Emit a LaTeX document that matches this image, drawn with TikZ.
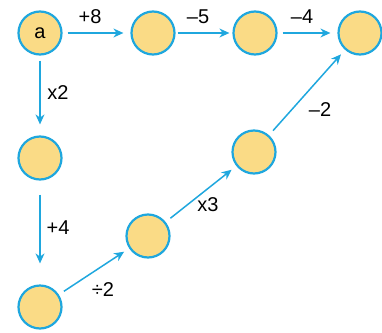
\documentclass[tikz,border=0pt]{standalone}
\usepackage{fontspec}
\setmainfont{Liberation Sans}
\usetikzlibrary{arrows.meta}
\definecolor{cfill}{HTML}{FADB86}
\definecolor{cline}{HTML}{1FA7DE}
\begin{document}
\begin{tikzpicture}[x=1pt,y=-1pt,
  ball/.style={circle,draw=cline,fill=cfill,line width=2.2pt,minimum size=43pt,inner sep=0pt,font=\fontsize{20}{22}\selectfont},
  arr/.style={draw=cline,line width=1.5pt,-{Stealth[length=10pt,width=9pt]}},
  lab/.style={font=\fontsize{20}{22}\selectfont,inner sep=0pt}]
\useasboundingbox (0,0) rectangle (382,332);
\node[ball] (a) at (40,33) {a};
\node[ball] (b) at (153,33) {};
\node[ball] (c) at (255,33) {};
\node[ball] (d) at (360,33) {};
\node[ball] (e) at (40,158) {};
\node[ball] (f) at (40,307) {};
\node[ball] (g) at (148,236) {};
\node[ball] (h) at (254,152) {};
\draw[arr,shorten <=5pt,shorten >=7pt] (a) -- (b);
\draw[arr,shorten <=2pt,shorten >=3pt] (b) -- (c);
\draw[arr,shorten <=5pt,shorten >=7pt] (c) -- (d);
\draw[arr,shorten <=5pt,shorten >=11pt] (a) -- (e);
\draw[arr,shorten <=14pt,shorten >=21pt] (e) -- (f);
\draw[arr,shorten <=6pt,shorten >=6pt] (f) -- (g);
\draw[arr,shorten <=6pt,shorten >=6pt] (g) -- (h);
\draw[arr,shorten <=6pt,shorten >=6pt] (h) -- (d);
\node[lab] (l1) at (90,17) {+8};
\node[lab] (l2) at (198,17) {\symbol{"2013}5};
\node[lab] (l3) at (302,17) {\symbol{"2013}4};
\node[lab] (l4) at (58,93) {x2};
\node[lab] (l5) at (320,110) {\symbol{"2013}2};
\node[lab] (l6) at (58,228) {+4};
\node[lab] (l7) at (208,205) {x3};
\node[lab] (l8) at (103,290) {÷2};
\end{tikzpicture}
\end{document}
